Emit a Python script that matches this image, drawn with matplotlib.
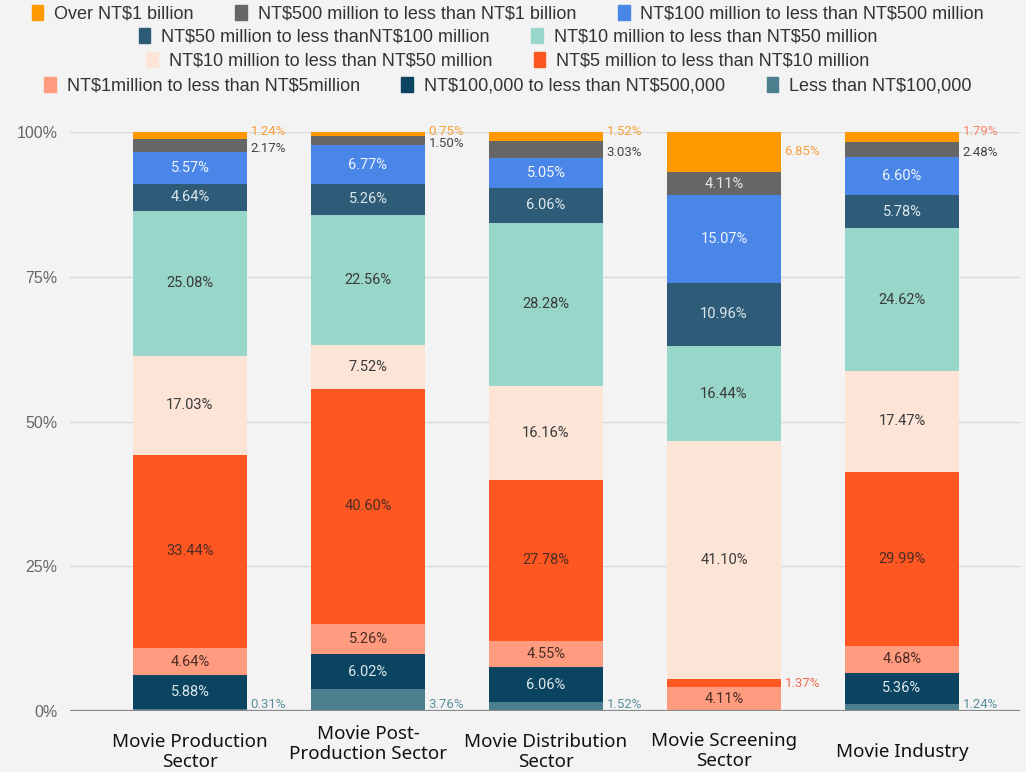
import numpy as np
import matplotlib.pyplot as plt
from matplotlib.patches import Patch
import matplotlib.transforms as mtransforms

# sectors along the x axis
sectors = ['Movie Production\nSector', 'Movie Post-\nProduction Sector', 'Movie Distribution\nSector',
           'Movie Screening\nSector', 'Movie Industry']

# share of companies per capital bracket (%), one value per sector
over_1b = [1.24, 0.75, 1.52, 6.85, 1.79]
m500_1b = [2.17, 1.50, 3.03, 4.11, 2.48]
m100_500 = [5.57, 6.77, 5.05, 15.07, 6.60]
m50_100 = [4.64, 5.26, 6.06, 10.96, 5.78]
m10_50 = [25.08, 22.56, 28.28, 16.44, 24.62]
m10_50_b = [17.03, 7.52, 16.16, 41.10, 17.47]
m5_10 = [33.44, 40.60, 27.78, 1.37, 29.99]
m1_5 = [4.64, 5.26, 4.55, 4.11, 4.68]
k100_500 = [5.88, 6.02, 6.06, 0.0, 5.36]
under_100k = [0.31, 3.76, 1.52, 0.0, 1.24]

legend_labels = ['Over NT$1 billion', 'NT$500 million to less than NT$1 billion',
                 'NT$100 million to less than NT$500 million',
                 'NT$50 million to less thanNT$100 million', 'NT$10 million to less than NT$50 million',
                 'NT$10 million to less than NT$50 million', 'NT$5 million to less than NT$10 million',
                 'NT$1million to less than NT$5million', 'NT$100,000 to less than NT$500,000',
                 'Less than NT$100,000']
# escape the dollar signs so matplotlib does not read them as mathtext
legend_labels = [s.replace('$', r'\$') for s in legend_labels]

# drawing order: bottom of the stack first
series = [
    # values, fill, inside text colour, outside text colour, label goes outside below this value
    (under_100k, '#4b7f8d', '#dde8ec', '#5b8f9b', 999),
    (k100_500, '#0b4461', '#dde8ec', '#0b4461', 2),
    (m1_5, '#ff9c80', '#4a2c24', '#f07a60', 2),
    (m5_10, '#ff5722', '#4a2c24', '#f26b50', 2),
    (m10_50_b, '#fce5d6', '#3a3a3a', '#c8a898', 2),
    (m10_50, '#98d6c9', '#3a3a3a', '#5aa898', 2),
    (m50_100, '#2e5b78', '#dde8ec', '#2e5b78', 2),
    (m100_500, '#4a86e8', '#eef3fb', '#4a86e8', 2),
    (m500_1b, '#666666', '#e6e6e6', '#444444', 4),
    (over_1b, '#ff9900', '#ffffff', '#f6a13a', 999),
]

fig = plt.figure(figsize=(10.26, 7.72), dpi=100)
fig.patch.set_facecolor('#f3f3f3')
ax = fig.add_axes([70 / 1026, 61 / 772, 950 / 1026, 579 / 772])
ax.set_facecolor('#f3f3f3')

x = np.arange(len(sectors))
w = 0.64
bottom = np.zeros(len(sectors))
for k, (vals, col, tin, tout, thr) in enumerate(series):
    vals = np.array(vals)
    ax.bar(x, vals, w, bottom=bottom, color=col, zorder=2, linewidth=0)
    for i, v in enumerate(vals):
        if v <= 0:
            continue
        mid = bottom[i] + v / 2
        txt = f'{v:.2f}%'
        if v < thr:
            # small segments get their label to the right of the bar
            yy = mid
            c = tout
            if k == 0:
                yy = 1.1
            elif k == len(series) - 1 and v < 3:
                yy = 100.1
                if i == 4:
                    c = '#f4846a'
            elif k == len(series) - 2:
                yy = mid - 0.5
            ax.text(x[i] + w / 2 + 0.02, yy, txt, ha='left', va='center', fontsize=9.5,
                    color=c, family='Roboto', zorder=4)
        else:
            ax.text(x[i], mid, txt, ha='center', va='center', fontsize=10.5,
                    color=tin, family='Roboto', zorder=4)
    bottom += vals

ax.set_xlim(-0.674, 4.663)
ax.set_ylim(0, 100)
ax.set_yticks([0, 25, 50, 75, 100])
ax.set_yticklabels(['0%', '25%', '50%', '75%', '100%'], family='Liberation Sans')
ax.tick_params(axis='y', length=0, pad=9, colors='#666666', labelsize=11.5)
ax.set_xticks([])
ax.yaxis.grid(True, color='#d9d9d9', lw=1, zorder=0)
ax.axhline(0, color='#8a8a8a', lw=1.6, zorder=3)
for s in ax.spines.values():
    s.set_visible(False)

# category labels under the bars
trans = mtransforms.blended_transform_factory(ax.transData, ax.transAxes)
label_y = [-0.071, -0.057, -0.071, -0.069, -0.071]
for i, lab in enumerate(sectors):
    ax.text(x[i], label_y[i], lab, transform=trans, ha='center', va='center', fontsize=13.5,
            family='Noto Sans', color='#111111', linespacing=1.1)

# legend: four centred rows
handles = [Patch(color=s[1]) for s in series[::-1]]
rows = [(0, 3, 0.982), (3, 5, 0.952), (5, 7, 0.921), (7, 10, 0.889)]
for a, b, yy in rows:
    fig.legend(handles[a:b], legend_labels[a:b], loc='center', bbox_to_anchor=(0.495, yy),
               ncol=b - a, frameon=False, prop={'family': 'Liberation Sans', 'size': 13},
               labelcolor='#333333', handlelength=0.65, handleheight=0.9, handletextpad=0.6,
               columnspacing=2.3, borderpad=0)

fig.savefig('out.png', dpi=100, facecolor=fig.get_facecolor())
